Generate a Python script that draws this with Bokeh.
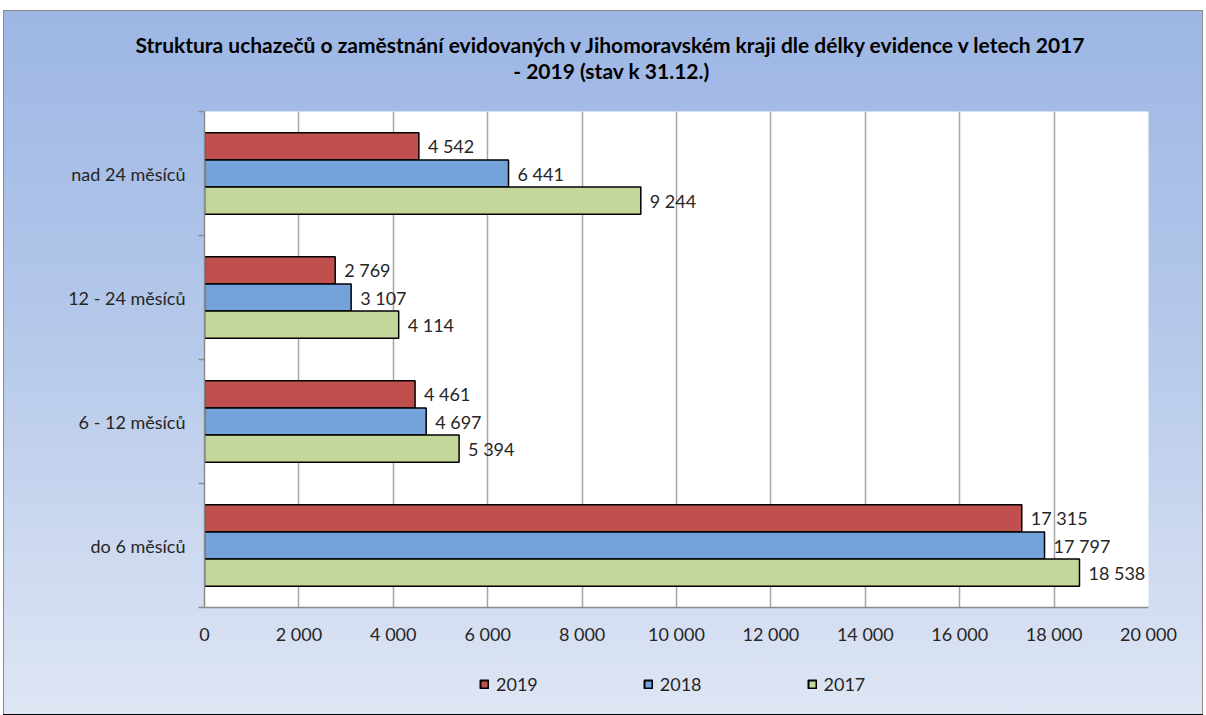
from bokeh.plotting import figure
from bokeh.layouts import column
from bokeh.models import (ColumnDataSource, FixedTicker, Legend, LegendItem, Label,
                          LabelSet, Range1d)
from bokeh.core.properties import value
from bokeh.embed import file_html
from bokeh.resources import INLINE

categories = ["do 6 měsíců", "6 - 12 měsíců", "12 - 24 měsíců", "nad 24 měsíců"]
years = ["2019", "2018", "2017"]
values_2019 = [17315, 4461, 2769, 4542]
values_2018 = [17797, 4697, 3107, 6441]
values_2017 = [18538, 5394, 4114, 9244]
x_ticks = [0, 2000, 4000, 6000, 8000, 10000, 12000, 14000, 16000, 18000, 20000]
x_tick_labels = ["0", "2 000", "4 000", "6 000", "8 000", "10 000", "12 000",
                 "14 000", "16 000", "18 000", "20 000"]
title_lines = ["Struktura uchazečů o zaměstnání evidovaných v Jihomoravském kraji dle délky evidence v letech 2017",
               "- 2019 (stav k 31.12.)"]

series = {"2019": values_2019, "2018": values_2018, "2017": values_2017}
colors = {"2019": "#C0504D", "2018": "#74A3DB", "2017": "#C4D79B"}
offsets = {"2019": 0.219, "2018": 0.0, "2017": -0.219}
bar_h = 0.219

FONT = "Lato"
TXT = "#262626"
FS = "18px"
W = 1200

# ---- title strip ----
pt = figure(width=W, height=91, output_backend="svg", toolbar_location=None,
            x_range=Range1d(0, W), y_range=Range1d(91, 0),
            x_axis_location=None, y_axis_location=None,
            min_border_left=0, min_border_right=0, min_border_top=0, min_border_bottom=0)
pt.frame_align = False
pt.title = None
pt.grid.visible = False
pt.outline_line_color = None
pt.background_fill_alpha = 0
pt.border_fill_alpha = 0
for line, ty in zip(title_lines, [34, 60]):
    pt.add_layout(Label(x=W / 2 + 8, y=ty, text=line, text_align="center", text_baseline="middle",
                        text_font=FONT, text_font_size="21px", text_font_style="bold",
                        text_color="black"))

# ---- main chart ----
p = figure(width=W, height=559, output_backend="svg", toolbar_location=None,
           x_range=Range1d(0, 20000), y_range=Range1d(0, 4),
           min_border_left=201, min_border_right=55, min_border_top=10, min_border_bottom=53)
p.frame_align = False
p.title = None
p.background_fill_color = "white"
p.border_fill_alpha = 0
p.outline_line_color = None

renderers = {}
for yr in years:
    vals = series[yr]
    ys = [i + 0.5 + offsets[yr] for i in range(len(categories))]
    src = ColumnDataSource(dict(y=ys, v=vals, lab=[f"{v:,}".replace(",", " ") for v in vals]))
    r = p.hbar(y="y", right="v", left=0, height=bar_h, source=src,
               fill_color=colors[yr], line_color="black", line_width=1.5)
    renderers[yr] = (r, src)
    p.add_layout(LabelSet(x="v", y="y", text="lab", source=src, x_offset=9,
                          text_baseline="middle", text_font=value(FONT), text_font_size=FS,
                          text_color=TXT))

xa = p.xaxis[0]
xa.ticker = FixedTicker(ticks=x_ticks)
xa.major_label_overrides = {t: l for t, l in zip(x_ticks, x_tick_labels)}
xa.axis_line_color = "#8C8C8C"
xa.axis_line_width = 1.5
xa.major_tick_line_color = None
xa.minor_tick_line_color = None
xa.major_label_standoff = 9
xa.major_label_text_font = FONT
xa.major_label_text_font_size = FS
xa.major_label_text_color = TXT

ya = p.yaxis[0]
ya.ticker = FixedTicker(ticks=[i + 0.5 for i in range(len(categories))],
                        minor_ticks=list(range(len(categories) + 1)))
ya.major_label_overrides = {i + 0.5: c for i, c in enumerate(categories)}
ya.axis_line_color = "#8C8C8C"
ya.axis_line_width = 1.5
ya.major_tick_line_color = None
ya.minor_tick_line_color = "#8C8C8C"
ya.minor_tick_line_width = 1.5
ya.minor_tick_out = 6
ya.minor_tick_in = 0
ya.major_label_standoff = 13
ya.major_label_text_font = FONT
ya.major_label_text_font_size = FS
ya.major_label_text_color = TXT

p.xgrid.ticker = FixedTicker(ticks=x_ticks)
p.xgrid.grid_line_color = "#A6A6A6"
p.xgrid.grid_line_width = 1.5
p.ygrid.grid_line_color = None

# ---- legend strip (same series, drawn outside its visible range; only the legend shows) ----
pl = figure(width=W, height=55, output_backend="svg", toolbar_location=None,
            x_range=Range1d(0, 1), y_range=Range1d(100, 101),
            x_axis_location=None, y_axis_location=None,
            min_border_left=0, min_border_right=0, min_border_top=0, min_border_bottom=0)
pl.frame_align = False
pl.title = None
pl.grid.visible = False
pl.outline_line_color = None
pl.background_fill_alpha = 0
pl.border_fill_alpha = 0
leg_items = []
for yr in years:
    src = renderers[yr][1]
    r = pl.hbar(y="y", right="v", left=0, height=bar_h, source=src,
                fill_color=colors[yr], line_color="black", line_width=2)
    leg_items.append(LegendItem(label=yr, renderers=[r]))
legend = Legend(items=leg_items, orientation="horizontal", location=(476, 20),
                glyph_width=10, glyph_height=10, label_standoff=7, spacing=105,
                label_text_font=FONT, label_text_font_size=FS, label_text_color=TXT,
                background_fill_alpha=0, border_line_color=None, margin=0, padding=6)
pl.add_layout(legend, "center")

layout = column(pt, p, pl, spacing=0)
layout.margin = (10, 0, 0, 3)
layout.styles = {"background": "linear-gradient(to bottom, #9DB6E4 0%, #B4C8EA 45%, #DFE6F4 100%)",
                 "outline": "1px solid #8C8C8C", "outline-offset": "-1px"}

open("out.html", "w").write(file_html(layout, INLINE))
